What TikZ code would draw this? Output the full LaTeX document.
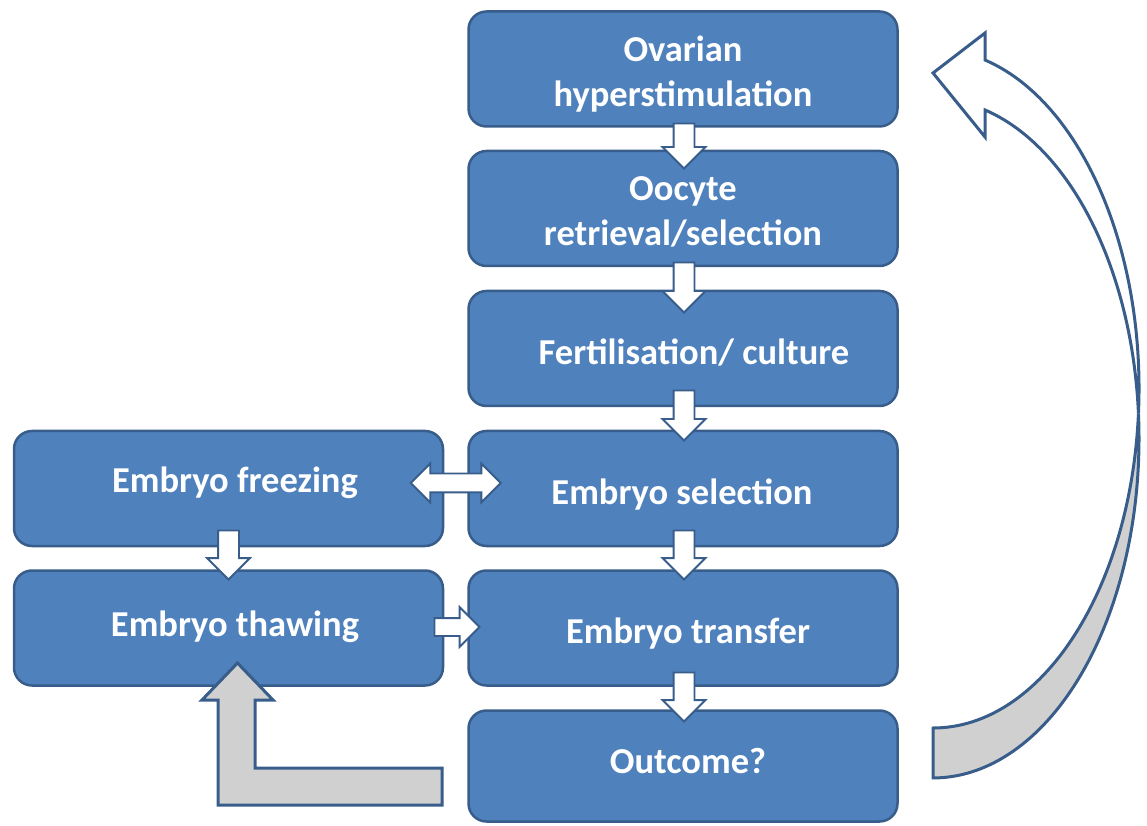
\documentclass[tikz,border=0pt]{standalone}
\usepackage{fontspec}
\setmainfont{Carlito}
\usetikzlibrary{shapes.arrows,calc}
\definecolor{boxfill}{HTML}{4F81BD}
\definecolor{boxline}{HTML}{385D8A}
\definecolor{backgrey}{HTML}{D0D0D0}
\tikzset{
  stepbox/.style={draw=boxline, line width=2.5pt, fill=boxfill, rounded corners=18pt,
    minimum width=429pt, minimum height=115pt, inner sep=0pt, outer sep=0pt},
  boxtext/.style={text=white, font=\bfseries\fontsize{36.5}{45}\selectfont,
    align=center, anchor=base, inner sep=0pt},
  blockarrow/.style={single arrow, draw=boxline, line width=1.8pt, fill=white,
    inner sep=9.5pt, outer sep=0pt, minimum width=41pt,
    single arrow head extend=11pt, single arrow tip angle=90},
  downarrow/.style={blockarrow, shape border rotate=270, anchor=tail},
  bigarrow/.style={draw=boxline, line width=3pt, line join=miter},
}
\begin{document}
\begin{tikzpicture}[x=1pt, y=1pt]
\useasboundingbox (0,0) rectangle (1147,825);

% main column of steps
\node[stepbox] (b1) at (683,756) {};
\node[stepbox] (b2) at (683,616.5) {};
\node[stepbox] (b3) at (683,476.5) {};
\node[stepbox] (b4) at (683,336.5) {};
\node[stepbox] (b5) at (683,197) {};
\node[stepbox, minimum height=111pt] (b6) at (683,59) {};
% frozen-embryo branch
\node[stepbox] (fr) at (228.5,336.5) {};
\node[stepbox] (th) at (228.5,197) {};

% labels (two-line labels are placed by their last baseline)
\node[boxtext] (t1) at (683,718) {Ovarian\\hyperstimulation};
\node[boxtext] (t2) at (683,579) {Oocyte\\retrieval/selection};
\node[boxtext] (t3) at (694,460) {Fertilisation/ culture};
\node[boxtext] (t4) at (682,320) {Embryo selection};
\node[boxtext] (t5) at (688,182) {Embryo transfer};
\node[boxtext] (t6) at (688,52) {Outcome?};
\node[boxtext] (t7) at (235,332) {Embryo freezing};
\node[boxtext] (t8) at (235,189) {Embryo thawing};

% small block arrows between steps
\node[downarrow, minimum height=45pt] (a12) at ($(b1.south)+(1,3)$) {};
\node[downarrow, minimum height=50pt] (a23) at ($(b2.south)+(1,3.5)$) {};
\node[downarrow, minimum height=50pt] (a34) at ($(b3.south)+(1,15.5)$) {};
\node[downarrow, minimum height=49pt] (a45) at ($(b4.south)+(1,15.5)$) {};
\node[downarrow, minimum height=49pt] (a56) at ($(b5.south)+(1,13)$) {};
\node[downarrow, minimum height=49pt] (afz) at ($(fr.south)+(0,15.5)$) {};
\node[double arrow, draw=boxline, line width=1.8pt, fill=white, inner sep=8.5pt,
  minimum width=38pt, minimum height=90pt, double arrow head extend=10pt,
  double arrow tip angle=90] (dfr) at ($(fr.east)!0.5!(b4.west)+(0,5.5)$) {};
\node[blockarrow, inner sep=8pt, minimum width=38pt, minimum height=45pt, anchor=tail]
  (ath) at ($(th.east)+(-8.5,1)$) {};

% return arrow from the outcome to thawing
\draw[bigarrow, fill=backgrey]
  (442,20) -- (218,20) -- (218,125) -- (202,125) -- (237.5,162)
  -- (273,125) -- (255,125) -- (255,57) -- (442,57) -- cycle;

% curved arrow from the outcome back to stimulation
\draw[bigarrow, fill=backgrey]
  (933,97) arc[start angle=-90, end angle=-4.22, x radius=206pt, y radius=339.5pt]
  arc[start angle=4.22, end angle=-90, x radius=206pt, y radius=339.5pt]
  -- cycle;
\draw[bigarrow, fill=white]
  (1138.44,411.5) arc[start angle=-4.22, end angle=75.38, x radius=206pt, y radius=339.5pt]
  -- (985,792) -- (933,752) -- (985,688) -- (985,715)
  arc[start angle=75.38, end angle=4.22, x radius=206pt, y radius=339.5pt]
  -- cycle;
\end{tikzpicture}
\end{document}
